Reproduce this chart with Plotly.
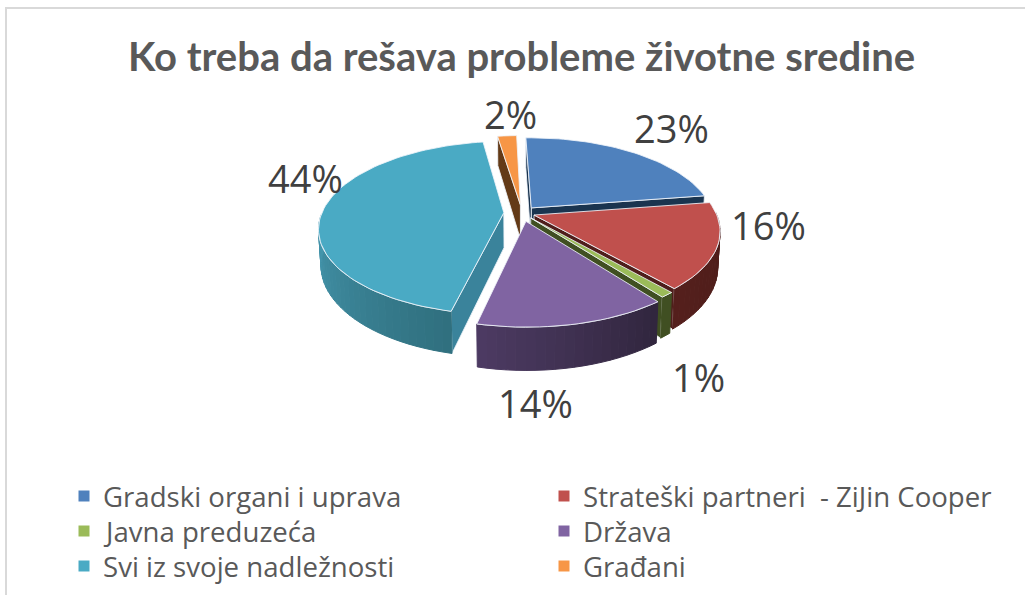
import math
import plotly.graph_objects as go

TITLE = "Ko treba da rešava probleme životne sredine"
CATEGORIES = ["Gradski organi i uprava", "Strateški partneri  - ZiJin Cooper", "Javna preduzeća",
              "Država", "Svi iz svoje nadležnosti", "Građani"]
VALUES = [23, 16, 1, 14, 44, 2]

TOP_COLORS = ["#4f81bd", "#c0504d", "#9bbb59", "#8064a2", "#4aaac4", "#f79646"]
CUT_COLORS = ["#1a344f", "#4f1e1b", "#404f22", "#32273f", "#3a839b", "#633a17"]
WALL_FROM = ["#1a344f", "#541f1c", "#404f22", "#4c3a62", "#4597ae", "#633a17"]
WALL_TO = ["#1a344f", "#4c1d1a", "#404f22", "#31263e", "#30707f", "#633a17"]
EXPLODE = [0.08, 0.07, 0.075, 0.10, 0.10, 0.10]
LABEL_POS = [(671, 128), (768, 225), (698, 377), (535, 403), (305, 178), (510, 114)]
LEGEND_COLS = [84, 564]
LEGEND_ROWS = [496, 531, 566]

CX, CY, A, B, P, DEPTH, ROT = 522, 213, 182, 84, 0.175, 35, -1.5
EDGE = "rgba(240,245,250,0.85)"


def project(X, Y, down=0.0):
    s = 1 / (1 - P * Y)
    k = 1 - 0.012 * (down > 0)
    return CX + A * X * s * k, CY + B * Y * s + down * s


def pt(theta, r, off, down=0.0):
    t = math.radians(theta + ROT)
    return project(off[0] + r * math.sin(t), off[1] - r * math.cos(t), down)


def mix(c1, c2, f):
    a = [int(c1[i:i + 2], 16) for i in (1, 3, 5)]
    b = [int(c2[i:i + 2], 16) for i in (1, 3, 5)]
    return "rgb(%d,%d,%d)" % tuple(round(x + (y - x) * f) for x, y in zip(a, b))


fig = go.Figure()


def poly(points, fill, line=None, width=1):
    xs = [p[0] for p in points] + [points[0][0]]
    ys = [p[1] for p in points] + [points[0][1]]
    fig.add_trace(go.Scatter(x=xs, y=ys, mode="lines", fill="toself", fillcolor=fill,
                             line=dict(color=line or fill, width=width), hoverinfo="skip",
                             showlegend=False))


total = sum(VALUES)
starts, acc = [], 0
for v in VALUES:
    starts.append(acc / total * 360)
    acc += v

for i in [5, 0, 1, 2, 3, 4]:
    t0 = starts[i]
    t1 = t0 + VALUES[i] / total * 360
    m = math.radians((t0 + t1) / 2 + ROT)
    off = (EXPLODE[i] * math.sin(m), -EXPLODE[i] * math.cos(m))

    # cut faces that look toward the viewer
    for edge, sign in ((t1, 1), (t0, -1)):
        n = math.radians(edge + ROT + sign * 90)
        if -math.cos(n) > 0:
            poly([pt(edge, 0, off), pt(edge, 1, off), pt(edge, 1, off, DEPTH), pt(edge, 0, off, DEPTH)],
                 CUT_COLORS[i], EDGE)

    # outer rim wall, front half only
    w0, w1 = max(t0, 90), min(t1, 270)
    if w1 > w0:
        n = max(1, int((w1 - w0) / 2.5))
        angs = [w0 + (w1 - w0) * k / n for k in range(n + 1)]
        for k in range(n):
            f = k / max(1, n - 1)
            # gradient runs left to right on screen, i.e. against the angle
            col = mix(WALL_FROM[i], WALL_TO[i], 1 - f)
            poly([pt(angs[k], 1, off), pt(angs[k + 1], 1, off),
                  pt(angs[k + 1], 1, off, DEPTH), pt(angs[k], 1, off, DEPTH)], col)
        outline = [pt(a, 1, off) for a in angs]
        fig.add_trace(go.Scatter(x=[p[0] for p in outline], y=[p[1] for p in outline],
                                 mode="lines", line=dict(color=EDGE, width=1), hoverinfo="skip", showlegend=False))

    # top face
    n = max(2, int((t1 - t0) / 2))
    rim = [pt(t0 + (t1 - t0) * k / n, 1, off) for k in range(n + 1)]
    poly([pt(t0, 0, off)] + rim, TOP_COLORS[i], EDGE)

# legend keys
for i, name in enumerate(CATEGORIES):
    lx = LEGEND_COLS[i % 2]
    ly = LEGEND_ROWS[i // 2]
    fig.add_trace(go.Scatter(x=[lx], y=[ly], mode="markers",
                             marker=dict(symbol="square", size=11, color=TOP_COLORS[i]),
                             hoverinfo="skip", showlegend=False))
    fig.add_annotation(x=lx + 17, y=ly, text=name, showarrow=False, xanchor="left", yanchor="middle",
                       font=dict(family="Open Sans", size=27.6, color="#595959"))

for v, (lx, ly) in zip(VALUES, LABEL_POS):
    fig.add_annotation(x=lx, y=ly, text=f"{v}%", showarrow=False, xanchor="center", yanchor="middle",
                       font=dict(family="Open Sans", size=38, color="#404040"))

fig.add_annotation(x=521, y=56, text=f"<b>{TITLE}</b>", showarrow=False, xanchor="center", yanchor="middle",
                   font=dict(family="Lato", size=40, color="#595959"))

fig.add_shape(type="rect", xref="x", yref="y", x0=6, y0=8, x1=1100, y1=700,
              line=dict(color="#d9d9d9", width=2), fillcolor="rgba(0,0,0,0)", layer="below")

fig.update_layout(width=1025, height=595, margin=dict(l=0, r=0, t=0, b=0),
                  paper_bgcolor="white", plot_bgcolor="white", showlegend=False,
                  xaxis=dict(range=[0, 1025], visible=False, fixedrange=True),
                  yaxis=dict(range=[595, 0], visible=False, fixedrange=True))

fig.write_html("out.html", config=dict(displayModeBar=False),
               post_script="document.body.style.margin='0';document.documentElement.style.overflow='hidden';")
